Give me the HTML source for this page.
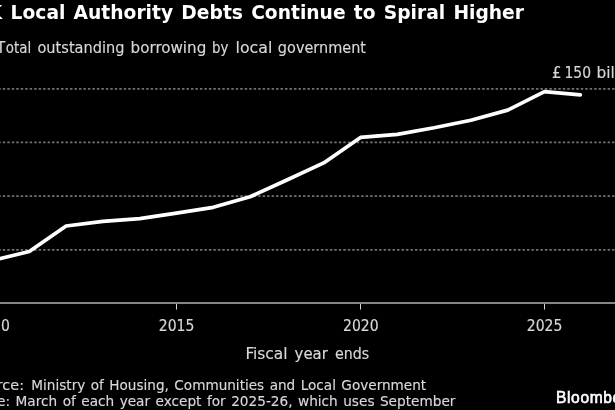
<!DOCTYPE html>
<html><head><meta charset="utf-8">
<style>
html,body{margin:0;padding:0;background:#000;}
body{width:615px;height:410px;overflow:hidden;position:relative;}
svg{position:absolute;left:0;top:0;display:block}
.c,.n{stroke:#d8d8d8;stroke-width:0.15px}
.t{stroke:none}
text{font-variant-ligatures:none;font-feature-settings:"liga" 0,"clig" 0;}
.c{font-family:"DejaVu Sans Condensed","DejaVu Sans","Liberation Sans",sans-serif;font-stretch:condensed;}
.n{font-family:"DejaVu Sans","Liberation Sans",sans-serif;}
.l{font-family:"Liberation Sans","DejaVu Sans",sans-serif;}
</style></head><body>
<svg width="615" height="410" viewBox="0 0 615 410">
<rect width="615" height="410" fill="#000"/>
<g stroke="#707070" stroke-width="1.8" stroke-dasharray="2.5 1.98">
<line x1="-1.7" y1="88.9" x2="616" y2="88.9"/>
<line x1="-1.7" y1="142.4" x2="616" y2="142.4"/>
<line x1="-1.7" y1="196.05" x2="616" y2="196.05"/>
<line x1="-1.7" y1="249.8" x2="616" y2="249.8"/>
</g>
<line x1="0" y1="303" x2="615" y2="303" stroke="#868686" stroke-width="2"/>
<g stroke="#d0d0d0" stroke-width="1">
<line x1="176.5" y1="304" x2="176.5" y2="309.6"/>
<line x1="360.5" y1="304" x2="360.5" y2="309.6"/>
<line x1="544.5" y1="304" x2="544.5" y2="309.6"/>
</g>
<polyline fill="none" stroke="#fff" stroke-width="3.7" stroke-linejoin="round" stroke-linecap="round"
points="-7.5,260.5 29.3,251.5 66.1,226 102.9,221.3 139.7,218.7 176.5,213.2 213.3,207.3 250.1,196.8 286.9,180 323.7,162.9 360.5,137.4 397.3,134.4 434.1,127.8 470.9,120.3 507.7,110.1 544.5,91.7 580.3,94.8"/>
<text class="n t" y="18.85" font-size="19.4" font-weight="bold" fill="#fff"><tspan x="-28.6">UK</tspan> <tspan x="10.6" word-spacing="1.8" textLength="513.4" lengthAdjust="spacingAndGlyphs">Local Authority Debts Continue to Spiral Higher</tspan></text>
<text class="c" y="52.8" font-size="16.56" fill="#d8d8d8"><tspan x="-3.6" textLength="8.75" lengthAdjust="spacingAndGlyphs">T</tspan><tspan x="5.82" textLength="25.49" lengthAdjust="spacingAndGlyphs">otal</tspan> <tspan x="37.47" textLength="87.02" lengthAdjust="spacingAndGlyphs">outstanding</tspan> <tspan x="130.6" textLength="75.69" lengthAdjust="spacingAndGlyphs">borrowing</tspan> <tspan x="211.97" textLength="16.39" lengthAdjust="spacingAndGlyphs">by</tspan> <tspan x="235.6" textLength="36.72" lengthAdjust="spacingAndGlyphs">local</tspan> <tspan x="277.87" textLength="88.11" lengthAdjust="spacingAndGlyphs">government</tspan></text>
<text class="c" y="78.2" font-size="16.56" fill="#d8d8d8"><tspan x="552.1">£</tspan> <tspan x="564.5" textLength="26.6" lengthAdjust="spacingAndGlyphs">150</tspan> <tspan x="596.5" textLength="46" lengthAdjust="spacingAndGlyphs">billion</tspan></text>
<g class="c" font-size="16.56" fill="#d8d8d8" text-anchor="middle">
<text x="-7.9" y="331.2" textLength="35.6" lengthAdjust="spacingAndGlyphs">2010</text>
<text x="176.6" y="331.2" textLength="35.6" lengthAdjust="spacingAndGlyphs">2015</text>
<text x="360.8" y="331.2" textLength="35.6" lengthAdjust="spacingAndGlyphs">2020</text>
<text x="544.6" y="331.2" textLength="35.6" lengthAdjust="spacingAndGlyphs">2025</text>
<text y="359.2" text-anchor="start"><tspan x="245.4" textLength="42.2" lengthAdjust="spacingAndGlyphs">Fiscal</tspan> <tspan x="294.6" textLength="33.28" lengthAdjust="spacingAndGlyphs">year</tspan> <tspan x="334.9" textLength="34.2" lengthAdjust="spacingAndGlyphs">ends</tspan></text>
</g>
<text class="n" y="389.5" font-size="14.6" fill="#d8d8d8"><tspan x="-30.3" textLength="54.3" lengthAdjust="spacingAndGlyphs">Source:</tspan> <tspan x="31.3" word-spacing="1.2" textLength="394.9" lengthAdjust="spacingAndGlyphs">Ministry of Housing, Communities and Local Government</tspan></text>
<text class="n" x="-26.8" y="406.2" font-size="14.6" fill="#d8d8d8" word-spacing="1.2" textLength="482.2" lengthAdjust="spacingAndGlyphs">Note: March of each year except for 2025-26, which uses September</text>
<text class="l" x="556" y="402.5" font-size="15.6" fill="#fff" stroke="#fff" stroke-width="0.6" letter-spacing="0.62">Bloomberg</text>
</svg>
</body></html>
